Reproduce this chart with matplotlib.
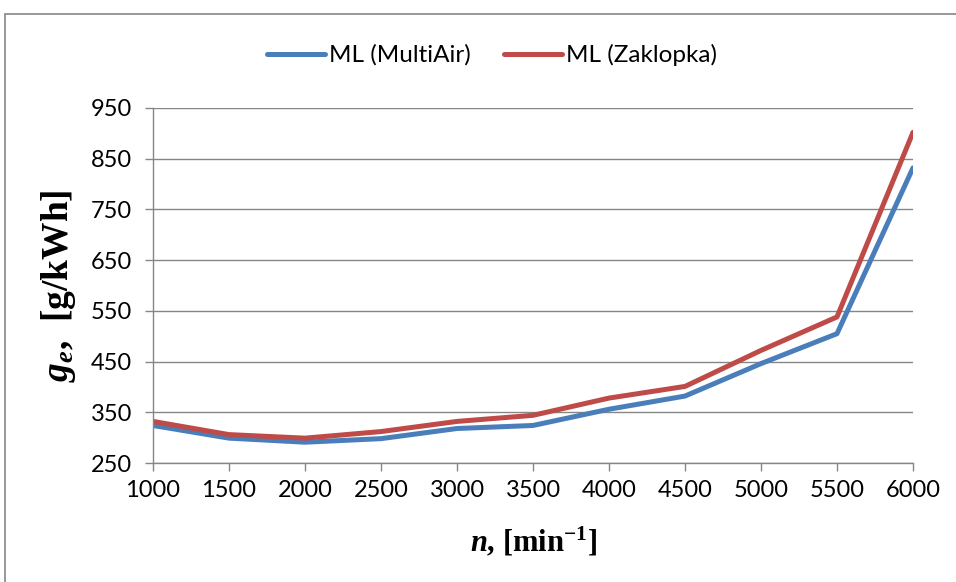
import matplotlib.pyplot as plt
from matplotlib.patches import Rectangle

plt.rcParams['mathtext.fontset'] = 'custom'
plt.rcParams['mathtext.rm'] = 'Liberation Serif:bold'
plt.rcParams['mathtext.it'] = 'Liberation Serif:bold:italic'
plt.rcParams['mathtext.bf'] = 'Liberation Serif:bold'

# data
speeds = [1000, 1500, 2000, 2500, 3000, 3500, 4000, 4500, 5000, 5500, 6000]
multiair = [324, 299, 291, 298, 318, 324, 356, 382, 446, 505, 832]
zaklopka = [332, 306, 299, 312, 332, 344, 378, 401, 472, 538, 902]
y_ticks = [250, 350, 450, 550, 650, 750, 850, 950]

blue = '#4A7EBB'
red = '#BE4B48'
grid_col = '#868686'

fig = plt.figure(figsize=(9.56, 5.82), dpi=100)
ax = fig.add_axes([153 / 956, 1 - 463 / 582, 760 / 956, 355 / 582])

# outer chart frame
fig.patches.append(Rectangle((5 / 956, -0.1), 1.2, 1 - 14 / 582 + 0.1,
                             transform=fig.transFigure, fill=False,
                             edgecolor=grid_col, linewidth=1.2))

ax.plot(speeds, multiair, color=blue, lw=3.6, solid_capstyle='round',
        solid_joinstyle='round', label='ML (MultiAir)')
ax.plot(speeds, zaklopka, color=red, lw=3.6, solid_capstyle='round',
        solid_joinstyle='round', label='ML (Zaklopka)')

ax.set_xlim(1000, 6000)
ax.set_ylim(250, 950)
ax.set_xticks(speeds)
ax.set_yticks(y_ticks)
ax.grid(axis='y', color=grid_col, lw=1.0)
ax.set_axisbelow(True)
for s in ['top', 'right']:
    ax.spines[s].set_visible(False)
for s in ['left', 'bottom']:
    ax.spines[s].set_color(grid_col)
    ax.spines[s].set_linewidth(1.0)
ax.tick_params(axis='both', color=grid_col, length=6, width=1.0,
               labelsize=17)
ax.tick_params(axis='x', pad=6)
ax.tick_params(axis='y', pad=9)
for lbl in ax.get_xticklabels() + ax.get_yticklabels():
    lbl.set_fontfamily('Lato')

ax.set_xlabel(r'$\mathit{n}$, [min$^{-1}$]', fontfamily='Liberation Serif',
              fontweight='bold', fontsize=22)
ax.xaxis.set_label_coords(0.5, -0.176)
ax.set_ylabel(r'$\mathit{g}_{\mathit{e}}$,  [g/kWh]', fontfamily='Liberation Serif',
              fontweight='bold', fontsize=27)
ax.yaxis.set_label_coords(-0.099, 0.5)

leg = fig.legend(loc='center', bbox_to_anchor=(492 / 956, 1 - 55 / 582), ncol=2,
                 frameon=False, prop={'family': 'Lato', 'size': 17.5},
                 handlelength=2.4, handletextpad=0.18, columnspacing=1.35)

fig.savefig('out.png', dpi=100)
